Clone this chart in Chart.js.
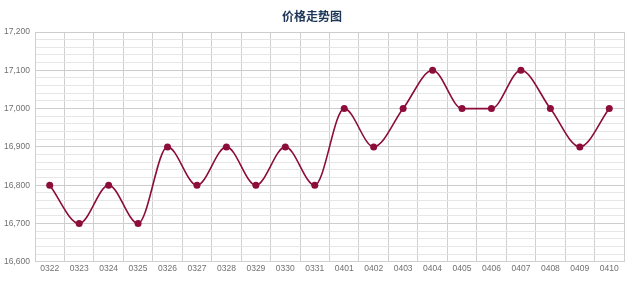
<!DOCTYPE html>
<html>
<head>
<meta charset="utf-8">
<script src="https://cdn.jsdelivr.net/npm/chart.js@4/dist/chart.umd.min.js"></script>
<style>
  html, body { margin: 0; padding: 0; background: #fff; }
  #wrap { width: 640px; height: 282px; }
</style>
</head>
<body>
<div id="wrap"><canvas id="price-chart"></canvas></div>
<script>
const dates = ["0322", "0323", "0324", "0325", "0326", "0327", "0328", "0329", "0330", "0331",
  "0401", "0402", "0403", "0404", "0405", "0406", "0407", "0408", "0409", "0410"];
const prices = [16800, 16700, 16800, 16700, 16900, 16800, 16900, 16800, 16900, 16800,
  17000, 16900, 17000, 17100, 17000, 17000, 17100, 17000, 16900, 17000];
const yMin = 16600;
const yMax = 17200;
const yMinorStep = 20;
const yMajorStep = 100;

const lineColor = "#8c0c3a";
const tickFont = { family: "Liberation Sans", size: 8.5 };

new Chart(document.getElementById("price-chart"), {
  type: "line",
  data: {
    labels: dates,
    datasets: [{
      data: prices,
      borderColor: lineColor,
      backgroundColor: lineColor,
      borderWidth: 1.6,
      pointRadius: 3.5,
      pointBackgroundColor: lineColor,
      pointBorderWidth: 0,
      cubicInterpolationMode: "monotone",
      fill: false,
    }],
  },
  options: {
    responsive: true,
    maintainAspectRatio: false,
    animation: false,
    layout: { padding: { left: 0, right: 16, top: 0, bottom: 7 } },
    plugins: {
      legend: { display: false },
      tooltip: { enabled: false },
      title: {
        display: true,
        text: "价格走势图",
        color: "#1d3557",
        font: { family: "Noto Sans CJK SC", size: 12, weight: "bold" },
        padding: { top: 9, bottom: 8.6 },
      },
    },
    scales: {
      x: {
        offset: true,
        grid: { offset: true, color: "#cfcfcf", drawTicks: false },
        border: { color: "#cfcfcf" },
        ticks: { color: "#707070", font: tickFont, padding: 1.5, autoSkip: false, maxRotation: 0 },
      },
      y: {
        min: yMin,
        max: yMax,
        afterFit: (scale) => { scale.width = 35; },
        grid: {
          drawTicks: false,
          color: (ctx) => (ctx.tick && ctx.tick.value % yMajorStep === 0 ? "#cdcdcd" : "#e6e6e6"),
        },
        border: { color: "#cfcfcf" },
        ticks: {
          stepSize: yMinorStep,
          maxTicksLimit: 100,
          autoSkip: false,
          color: "#707070",
          font: tickFont,
          padding: 5,
          callback: (v) => (v % yMajorStep === 0 ? v.toLocaleString("en-US") : ""),
        },
      },
    },
  },
});
</script>
</body>
</html>
